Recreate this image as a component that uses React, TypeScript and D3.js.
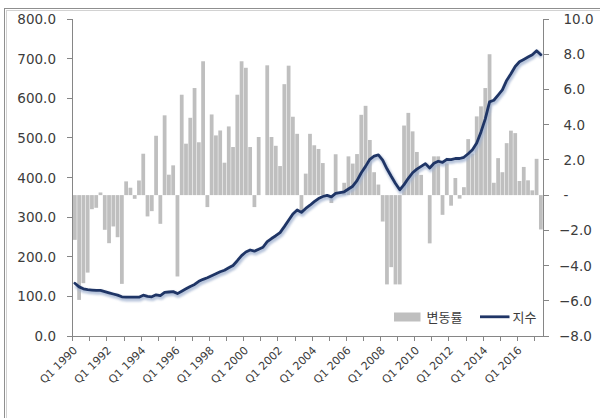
import React from 'react';
import * as d3 from 'd3';

// Quarterly categories Q1 1990 .. Q2 2017
const startYear = 1990;
const endYear = 2017;
const categories: string[] = [];
for (let y = startYear; y <= endYear; y++) {
  for (let q = 1; q <= 4; q++) {
    if (y === endYear && q > 2) break;
    categories.push(`Q${q} ${y}`);
  }
}

// 변동률 (right axis, %)
const rateValues = [
  -2.54, -5.95, -5.0, -4.4, -0.8, -0.72, 0.15, -1.97, -2.73, -1.78,
  -2.39, -5.04, 0.78, 0.42, -0.21, 0.83, 2.35, -1.21, -0.91, 3.37,
  -1.63, 4.53, 1.16, 1.69, -4.62, 5.7, 2.92, 4.39, 6.08, 3.0,
  7.6, -0.68, 4.58, 3.39, 3.67, 1.84, 3.9, 2.73, 5.7, 7.6,
  7.23, 2.73, -0.68, 3.3, 0, 7.37, 3.3, 2.8, 1.65, 6.3,
  7.35, 4.45, 3.48, -1.0, 1.22, 3.48, 2.83, 2.62, 1.82, 0,
  -0.45, 2.32, 0, 0.7, 2.2, 1.79, 2.33, 4.56, 5.07, 3.13,
  1.3, 0.6, -1.5, -5.07, -4.09, -5.07, -5.07, 3.95, 4.67, 3.62,
  2.45, 1.15, 0, -2.74, 2.2, 2.2, -1.12, 1.8, -0.6, 0.97,
  -0.2, 0.45, 3.18, 2.35, 4.47, 5.04, 6.08, 8.0, 0.7, 2.1,
  1.3, 2.95, 3.66, 3.52, 0.8, 1.6, 0.84, 0.27, 2.06, -1.95,
];

// 지수 (left axis)
const indexValues = [
  133, 124, 119, 117, 116, 115, 115, 112, 109, 106,
  103, 99, 98, 98, 98, 98, 103, 100, 99, 104,
  102, 110, 111, 112, 107, 113, 119, 125, 130, 138,
  143, 147, 152, 157, 162, 166, 172, 178, 190, 203,
  212, 217, 214, 219, 224, 238, 246, 253, 261, 276,
  292, 308, 318, 312, 322, 330, 339, 347, 352, 355,
  351, 360, 362, 364, 371, 378, 392, 412, 428, 446,
  454, 457, 444, 422, 403, 385, 369, 382, 398, 412,
  421, 428, 435, 424, 436, 441, 438, 446, 445, 448,
  448, 451, 460, 470, 487, 515, 548, 591, 595, 608,
  621, 645, 662, 680, 692, 698, 704, 710, 720, 710,
];

const leftTicks = [0, 100, 200, 300, 400, 500, 600, 700, 800];
const rightTicks = [-8, -6, -4, -2, 0, 2, 4, 6, 8, 10];
const xTickEvery = 4;
const xLabelEvery = 8;
const seriesNames = ['변동률', '지수'];

export default function App() {
  const W = 600;
  const H = 418;
  const left = 72.7;
  const right = 543;
  const top = 19;
  const bottom = 336;

  const x = d3
    .scaleBand<string>()
    .domain(categories)
    .range([left, right])
    .paddingInner(0.12)
    .paddingOuter(0.06);
  const step = x.step();
  const bw = x.bandwidth();
  const yL = d3.scaleLinear().domain([0, 800]).range([bottom, top]);
  const yR = d3.scaleLinear().domain([-8, 10]).range([bottom, top]);
  const cx = (i: number) => (x(categories[i]) as number) + bw / 2;

  const linePath = d3
    .line<number>()
    .x((_, i) => cx(i))
    .y((d) => yL(d))(indexValues) as string;

  const axisColor = '#868686';
  const textColor = '#3c3c3c';
  const numFont = '"DejaVu Sans", "Noto Sans CJK KR", sans-serif';
  const krFont = '"Noto Sans CJK KR", "Noto Sans", sans-serif';

  const fmtLeft = d3.format('.1f');
  const fmtRight = (v: number) => (v === 0 ? '-' : d3.format('.1f')(v));

  const tickIdx = d3.range(0, categories.length, xTickEvery);
  const labelIdx = d3.range(0, categories.length, xLabelEvery);

  return (
    <svg
      width={W}
      height={H}
      style={{ position: 'absolute', left: 0, top: 0, background: '#fff' }}
    >
      <defs>
        <filter id="shadow" x="-5%" y="-10%" width="110%" height="130%">
          <feGaussianBlur stdDeviation="1.3" />
        </filter>
      </defs>
      <rect x={0} y={0} width={W} height={H} fill="#fff" />
      {/* chart frame */}
      <rect x={4.5} y={8.5} width={620} height={430} fill="none" stroke="#8f8f8f" />
      <rect x={6.5} y={10.5} width={620} height={430} fill="none" stroke="#d2d2d2" />

      {/* bars */}
      <g>
        {rateValues.map((v, i) => (
          <rect
            key={i}
            x={x(categories[i]) as number}
            width={bw}
            y={Math.min(yR(v), yR(0))}
            height={Math.abs(yR(v) - yR(0))}
            fill="#bfbfbf"
          />
        ))}
      </g>

      {/* axes */}
      <g stroke={axisColor} strokeWidth={1} shapeRendering="crispEdges">
        <line x1={left} x2={left} y1={top} y2={bottom} />
        <line x1={right} x2={right} y1={top} y2={bottom} />
        <line x1={left} x2={right} y1={bottom} y2={bottom} />
        {leftTicks.map((t) => (
          <line key={'lt' + t} x1={left - 6} x2={left} y1={yL(t)} y2={yL(t)} />
        ))}
        {rightTicks.map((t) => (
          <line key={'rt' + t} x1={right} x2={right + 6} y1={yR(t)} y2={yR(t)} />
        ))}
        {tickIdx.map((i) => (
          <line
            key={'xt' + i}
            x1={left + i * step}
            x2={left + i * step}
            y1={bottom}
            y2={bottom + 5}
          />
        ))}
      </g>

      {/* line shadow + line */}
      <path
        d={linePath}
        fill="none"
        stroke="#9fb0cf"
        strokeWidth={4.5}
        strokeLinejoin="round"
        opacity={0.75}
        transform="translate(1,2)"
        filter="url(#shadow)"
      />
      <path
        d={linePath}
        fill="none"
        stroke="#1f3566"
        strokeWidth={2.8}
        strokeLinejoin="round"
        strokeLinecap="round"
      />

      {/* left labels */}
      <g fontFamily={numFont} fontSize={13.5} fill={textColor}>
        {leftTicks.map((t) => (
          <text key={'ll' + t} x={56} y={yL(t) + 5} textAnchor="end">
            {fmtLeft(t)}
          </text>
        ))}
        {rightTicks.map((t) => (
          <text
            key={'rl' + t}
            x={t < 0 ? 559 : 563.5}
            y={yR(t) + 5}
            textAnchor="start"
          >
            {fmtRight(t)}
          </text>
        ))}
      </g>

      {/* x labels */}
      <g fontFamily={numFont} fontSize={11} fill={textColor}>
        {labelIdx.map((i) => {
          const ax = cx(i) + 3;
          const ay = 351;
          return (
            <text
              key={'xl' + i}
              x={ax}
              y={ay}
              textAnchor="end"
              transform={`rotate(-45 ${ax} ${ay})`}
            >
              {categories[i]}
            </text>
          );
        })}
      </g>

      {/* legend */}
      <g>
        <rect x={394} y={312.5} width={26.5} height={9} fill="#bfbfbf" />
        <text x={426.5} y={322} fontFamily={krFont} fontSize={13} fill={textColor}>
          {seriesNames[0]}
        </text>
        <line x1={480} x2={509.5} y1={316.8} y2={316.8} stroke="#1f3566" strokeWidth={2.8} />
        <text x={512.5} y={322} fontFamily={krFont} fontSize={13} fill={textColor}>
          {seriesNames[1]}
        </text>
      </g>
    </svg>
  );
}
